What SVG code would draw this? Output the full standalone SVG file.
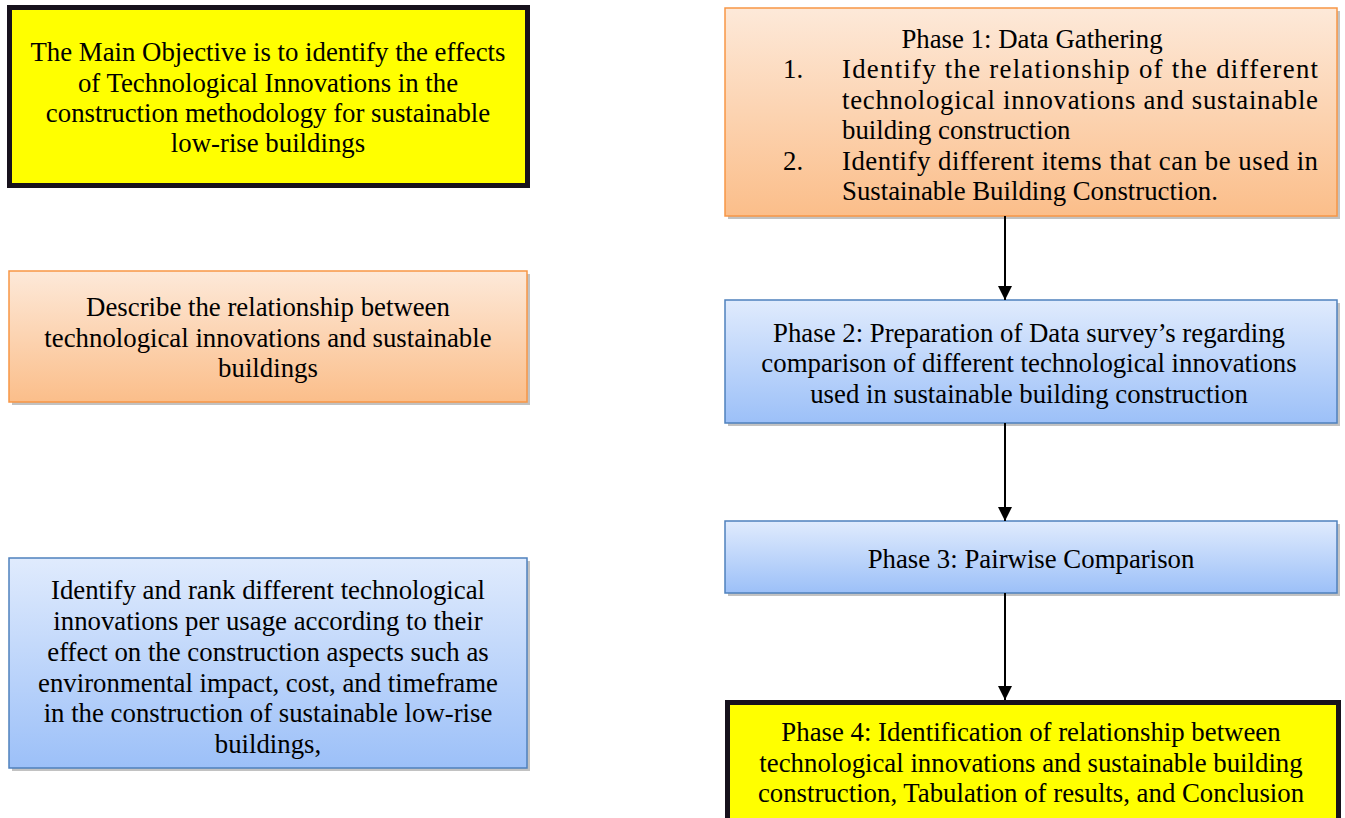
<svg xmlns="http://www.w3.org/2000/svg" width="1345" height="818" viewBox="0 0 1345 818">
<style>
text{font-family:"Liberation Serif","Times New Roman","DejaVu Serif",serif;font-size:26.8px;fill:#000}
.c{text-anchor:middle}
.orange{fill:url(#gO);stroke:#f79646;stroke-width:1.5}
.blue{fill:url(#gB);stroke:#4f81bd;stroke-width:1.5}
.yellow{fill:#ffff00;stroke:#17121c;stroke-width:5}
.shadow{fill:#9a9a9a;opacity:0.6}
.conn{stroke:#000;stroke-width:2;fill:none;marker-end:url(#arr)}
</style>
<defs>
<linearGradient id="gO" x1="0" y1="0" x2="0" y2="1">
<stop offset="0" stop-color="#fde9d9"/><stop offset="1" stop-color="#fbbe8a"/>
</linearGradient>
<linearGradient id="gB" x1="0" y1="0" x2="0" y2="1">
<stop offset="0" stop-color="#e0ebfd"/><stop offset="1" stop-color="#9cc0f8"/>
</linearGradient>
<marker id="arr" markerWidth="16" markerHeight="16" refX="14" refY="7" orient="auto" markerUnits="userSpaceOnUse">
<path d="M0,0 L14,7 L0,14 Z" fill="#000"/>
</marker>
</defs>

<g id="main-objective">
<rect class="yellow" x="9.5" y="7.5" width="518" height="178"/>
<text class="c" x="268" y="61">The Main Objective is to identify the effects</text>
<text class="c" x="268" y="92">of Technological Innovations in the</text>
<text class="c" x="268" y="122">construction methodology for sustainable</text>
<text class="c" x="268" y="152">low-rise buildings</text>
</g>

<g id="describe">
<rect class="shadow" x="12" y="274" width="518" height="131"/>
<rect class="orange" x="9" y="271" width="518" height="131"/>
<text class="c" x="268" y="316">Describe the relationship between</text>
<text class="c" x="268" y="347">technological innovations and sustainable</text>
<text class="c" x="268" y="377">buildings</text>
</g>

<g id="identify-rank">
<rect class="shadow" x="12" y="561" width="518" height="210"/>
<rect class="blue" x="9" y="558" width="518" height="210"/>
<text class="c" x="268" y="599">Identify and rank different technological</text>
<text class="c" x="268" y="630">innovations per usage according to their</text>
<text class="c" x="268" y="661">effect on the construction aspects such as</text>
<text class="c" x="268" y="692">environmental impact, cost, and timeframe</text>
<text class="c" x="268" y="722">in the construction of sustainable low-rise</text>
<text class="c" x="268" y="753">buildings,</text>
</g>

<g id="phase1">
<rect class="shadow" x="728" y="11" width="612" height="208"/>
<rect class="orange" x="725" y="8" width="612" height="208"/>
<text class="c" x="1032" y="48">Phase 1: Data Gathering</text>
<text x="783" y="78">1.</text>
<text x="842" y="78" textLength="476" lengthAdjust="spacing">Identify the relationship of the different</text>
<text x="842" y="109" textLength="476" lengthAdjust="spacing">technological innovations and sustainable</text>
<text x="842" y="139">building construction</text>
<text x="783" y="170">2.</text>
<text x="842" y="170" textLength="476" lengthAdjust="spacing">Identify different items that can be used in</text>
<text x="842" y="200">Sustainable Building Construction.</text>
</g>

<g id="phase2">
<rect class="shadow" x="728" y="303" width="612" height="123"/>
<rect class="blue" x="725" y="300" width="612" height="123"/>
<text class="c" x="1029" y="342">Phase 2: Preparation of Data survey’s regarding</text>
<text class="c" x="1029" y="372">comparison of different technological innovations</text>
<text class="c" x="1029" y="403">used in sustainable building construction</text>
</g>

<g id="phase3">
<rect class="shadow" x="728" y="524" width="612" height="72"/>
<rect class="blue" x="725" y="521" width="612" height="72"/>
<text class="c" x="1031" y="568">Phase 3: Pairwise Comparison</text>
</g>

<g id="phase4">
<rect class="yellow" x="727.5" y="702.5" width="611" height="130"/>
<text class="c" x="1031" y="741">Phase 4: Identification of relationship between</text>
<text class="c" x="1031" y="772">technological innovations and sustainable building</text>
<text class="c" x="1031" y="802">construction, Tabulation of results, and Conclusion</text>
</g>

<g id="connectors">
<line class="conn" x1="1005" y1="216" x2="1005" y2="300"/>
<line class="conn" x1="1005" y1="423" x2="1005" y2="521"/>
<line class="conn" x1="1005" y1="593" x2="1005" y2="700"/>
</g>
</svg>
